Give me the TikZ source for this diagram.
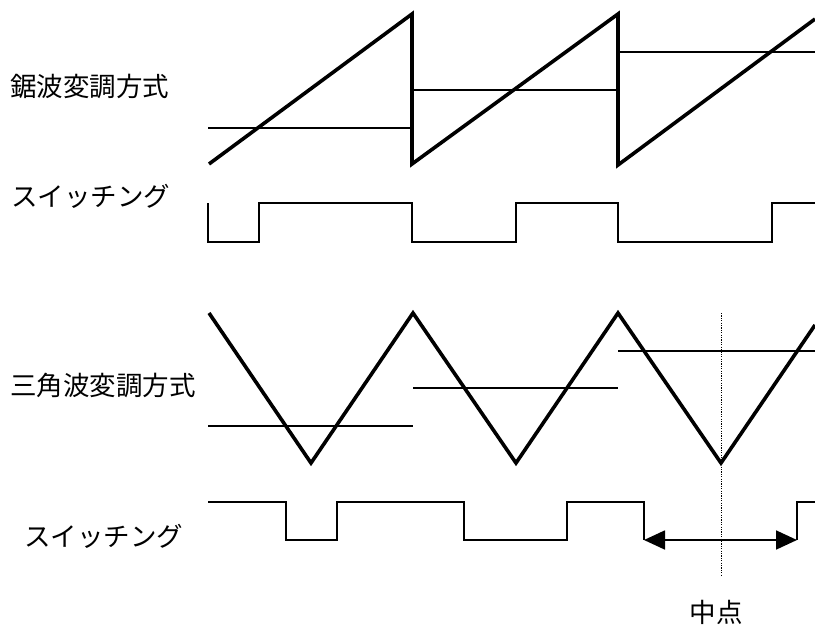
\documentclass[tikz,border=0pt]{standalone}
\usepackage{fontspec}
\newfontfamily\jpfont{Noto Sans CJK JP}
\usetikzlibrary{arrows.meta}
\begin{document}
\begin{tikzpicture}[x=1pt,y=-1pt,
  wave/.style={line width=3.6pt},
  level/.style={line width=1.8pt},
  sw/.style={line width=1.8pt},
  lbl/.style={font=\jpfont\fontsize{26.5}{30}\selectfont, inner sep=0pt, anchor=base west},
  dim/.style={line width=1.8pt, {Triangle[length=21pt,width=19pt]}-{Triangle[length=21pt,width=19pt]}},
  guide/.style={line width=0.9pt, dash pattern=on 1.2pt off 1.2pt}]
\useasboundingbox (0,0) rectangle (815,625);
% labels
\node[lbl] (t1) at (10,96) {鋸波変調方式};
\node[lbl] (t2) at (11,206.5) {スイッチング};
\node[lbl] (t3) at (10,395.5) {三角波変調方式};
\node[lbl] (t4) at (24,546.5) {スイッチング};
\node[lbl, anchor=base] (t5) at (716,622) {中点};
% sawtooth
\draw[wave] (209,164) -- (412,14) -- (412,164) -- (618,14) -- (618,165) -- (815,19);
\draw[level] (208,128) -- (412,128);
\draw[level] (412,90) -- (618,90);
\draw[level] (618,52) -- (815,52);
\draw[sw] (208,203) -- (208,242) -- (259,242) -- (259,203) -- (412,203) -- (412,242)
  -- (516,242) -- (516,203) -- (618,203) -- (618,242) -- (772,242) -- (772,203) -- (815,203);
% triangle
\draw[wave] (209,313) -- (311,463) -- (413,313) -- (516,463) -- (618,313) -- (721,463) -- (815,325);
\draw[level] (208,426) -- (413,426);
\draw[level] (413,388) -- (618,388);
\draw[level] (618,351) -- (815,351);
\draw[sw] (208,502) -- (286,502) -- (286,540) -- (337,540) -- (337,502) -- (464,502) -- (464,540)
  -- (567,540) -- (567,502) -- (644,502) -- (644,540) coordinate (aL);
\draw[sw] (797,540) coordinate (aR) -- (797,502) -- (815,502);
% midpoint guide and dimension
\coordinate (gtop) at (721,313);
\coordinate (gbot) at (721,576);
\draw[guide] (gtop) -- (gbot);
\draw[dim] (aL) -- (aR);
\end{tikzpicture}
\end{document}
